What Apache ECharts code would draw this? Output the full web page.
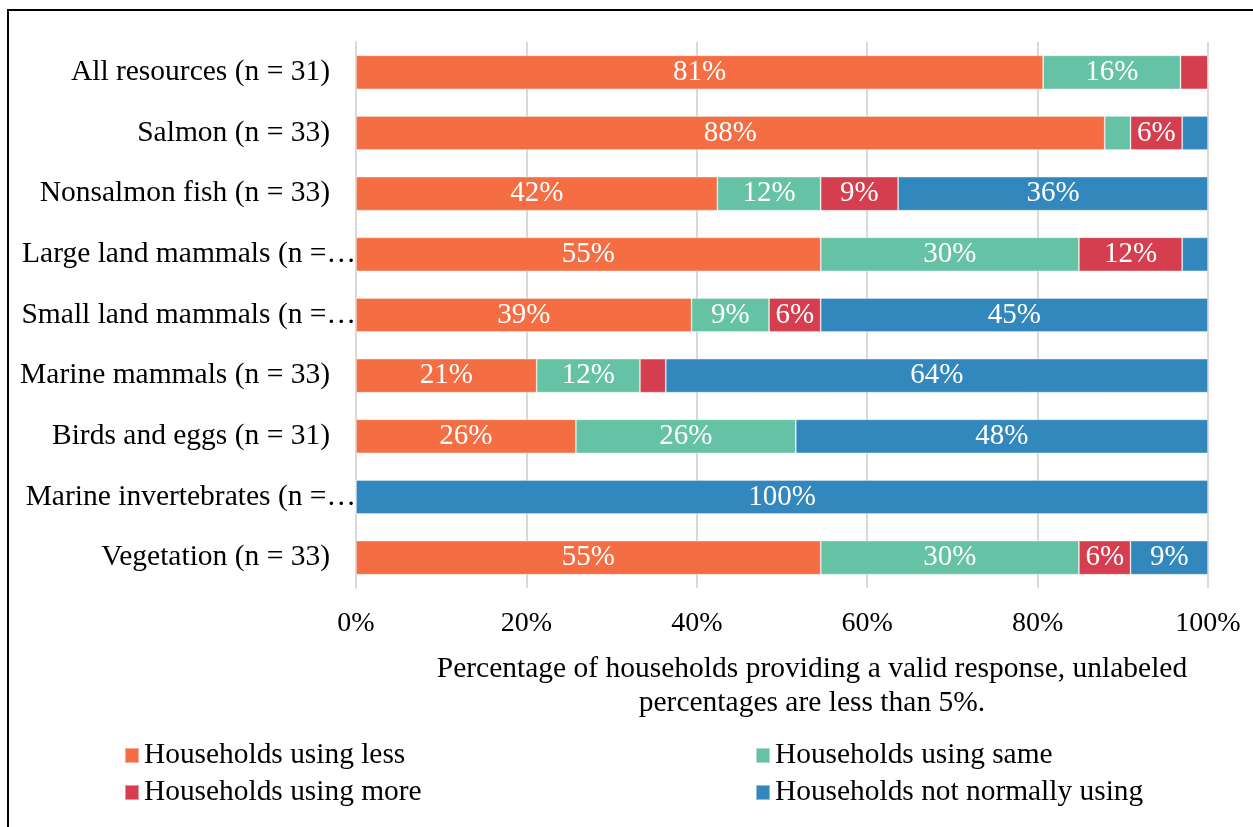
<!DOCTYPE html>
<html>
<head>
<meta charset="utf-8">
<title>Household resource use</title>
<script src="https://cdn.jsdelivr.net/npm/echarts@6/dist/echarts.min.js"></script>
<style>
  html, body { margin: 0; padding: 0; background: #fff; }
  #chart { width: 1253px; height: 827px; }
</style>
</head>
<body>
<div id="chart"></div>
<script>
// Resource categories, top to bottom
const categories = [
  'All resources (n = 31)',
  'Salmon (n = 33)',
  'Nonsalmon fish (n = 33)',
  'Large land mammals (n =…',
  'Small land mammals (n =…',
  'Marine mammals (n = 33)',
  'Birds and eggs (n = 31)',
  'Marine invertebrates (n =…',
  'Vegetation (n = 33)'
];

// Share of households (%) in each response group
const usingLess        = [80.65, 87.88, 42.42, 54.55, 39.39, 21.21, 25.81, 0, 54.55];
const usingSame        = [16.13,  3.03, 12.12, 30.30,  9.09, 12.12, 25.81, 0, 30.30];
const usingMore        = [ 3.22,  6.06,  9.09, 12.12,  6.06,  3.03,  0,    0,  6.06];
const notNormallyUsing = [ 0,     3.03, 36.36,  3.03, 45.45, 63.64, 48.38, 100, 9.09];

const xTicks = [0, 20, 40, 60, 80, 100];

const seriesNames = [
  'Households using less',
  'Households using same',
  'Households using more',
  'Households not normally using'
];
const colors = ['#F46D43', '#66C2A5', '#D53E4F', '#3288BD'];

const FONT = 'Liberation Serif, Times New Roman, serif';
const truncated = new Set(categories.filter(c => c.endsWith('…')));

const chart = echarts.init(document.getElementById('chart'), null, { renderer: 'canvas' });

function makeSeries(name, values, color) {
  return {
    name: name,
    type: 'bar',
    stack: 'total',
    data: values,
    barWidth: 34,
    itemStyle: { color: color, borderColor: 'rgba(255,255,255,0.45)', borderWidth: 0.8 },
    label: {
      show: true,
      position: 'inside',
      color: '#fff',
      fontFamily: FONT,
      fontSize: 29,
      formatter: p => (p.value >= 5 ? Math.round(p.value) + '%' : '')
    },
    emphasis: { disabled: true }
  };
}

function legendAt(name, left, top) {
  return {
    data: [name],
    left: left,
    top: top,
    padding: 0,
    icon: 'rect',
    itemWidth: 14,
    itemHeight: 15,
    selectedMode: false,
    textStyle: { fontFamily: FONT, fontSize: 29.4, color: '#000' }
  };
}

const option = {
  animation: false,
  backgroundColor: '#fff',
  grid: { left: 356, right: 45, top: 42, bottom: 239, containLabel: false },
  xAxis: {
    type: 'value',
    min: 0,
    max: 100,
    interval: 20,
    axisLine: { show: false },
    axisTick: { show: false },
    splitLine: { show: true, lineStyle: { color: '#d9d9d9', width: 2 } },
    axisLabel: {
      margin: 22,
      color: '#000',
      fontFamily: FONT,
      fontSize: 28,
      formatter: v => (xTicks.includes(v) ? v + '%' : '')
    },
    name: 'Percentage of households providing a valid response, unlabeled\npercentages are less than 5%.',
    nameLocation: 'middle',
    nameGap: 64,
    nameTextStyle: {
      color: '#000',
      fontFamily: FONT,
      fontSize: 29.5,
      lineHeight: 34,
      align: 'center',
      padding: [0, 0, 0, 60]
    }
  },
  yAxis: {
    type: 'category',
    inverse: true,
    data: categories,
    axisLine: { show: true, lineStyle: { color: '#d9d9d9', width: 2 } },
    axisTick: { show: false },
    axisLabel: {
      margin: 0,
      formatter: v => (truncated.has(v) ? '{t|' + v + '}' : '{n|' + v + '}'),
      rich: {
        n: { color: '#000', fontFamily: FONT, fontSize: 29.5, padding: [0, 26, 0, 0] },
        t: { color: '#000', fontFamily: FONT, fontSize: 29.5 }
      }
    }
  },
  legend: [
    legendAt(seriesNames[0], 124, 741),
    legendAt(seriesNames[1], 755, 741),
    legendAt(seriesNames[2], 124, 778),
    legendAt(seriesNames[3], 755, 778)
  ],
  graphic: [{
    type: 'rect',
    silent: true,
    shape: { x: 8, y: 10, width: 1400, height: 1000 },
    style: { fill: 'none', stroke: '#000', lineWidth: 2 }
  }],
  series: [
    makeSeries(seriesNames[0], usingLess, colors[0]),
    makeSeries(seriesNames[1], usingSame, colors[1]),
    makeSeries(seriesNames[2], usingMore, colors[2]),
    makeSeries(seriesNames[3], notNormallyUsing, colors[3])
  ]
};

chart.setOption(option);
</script>
</body>
</html>
